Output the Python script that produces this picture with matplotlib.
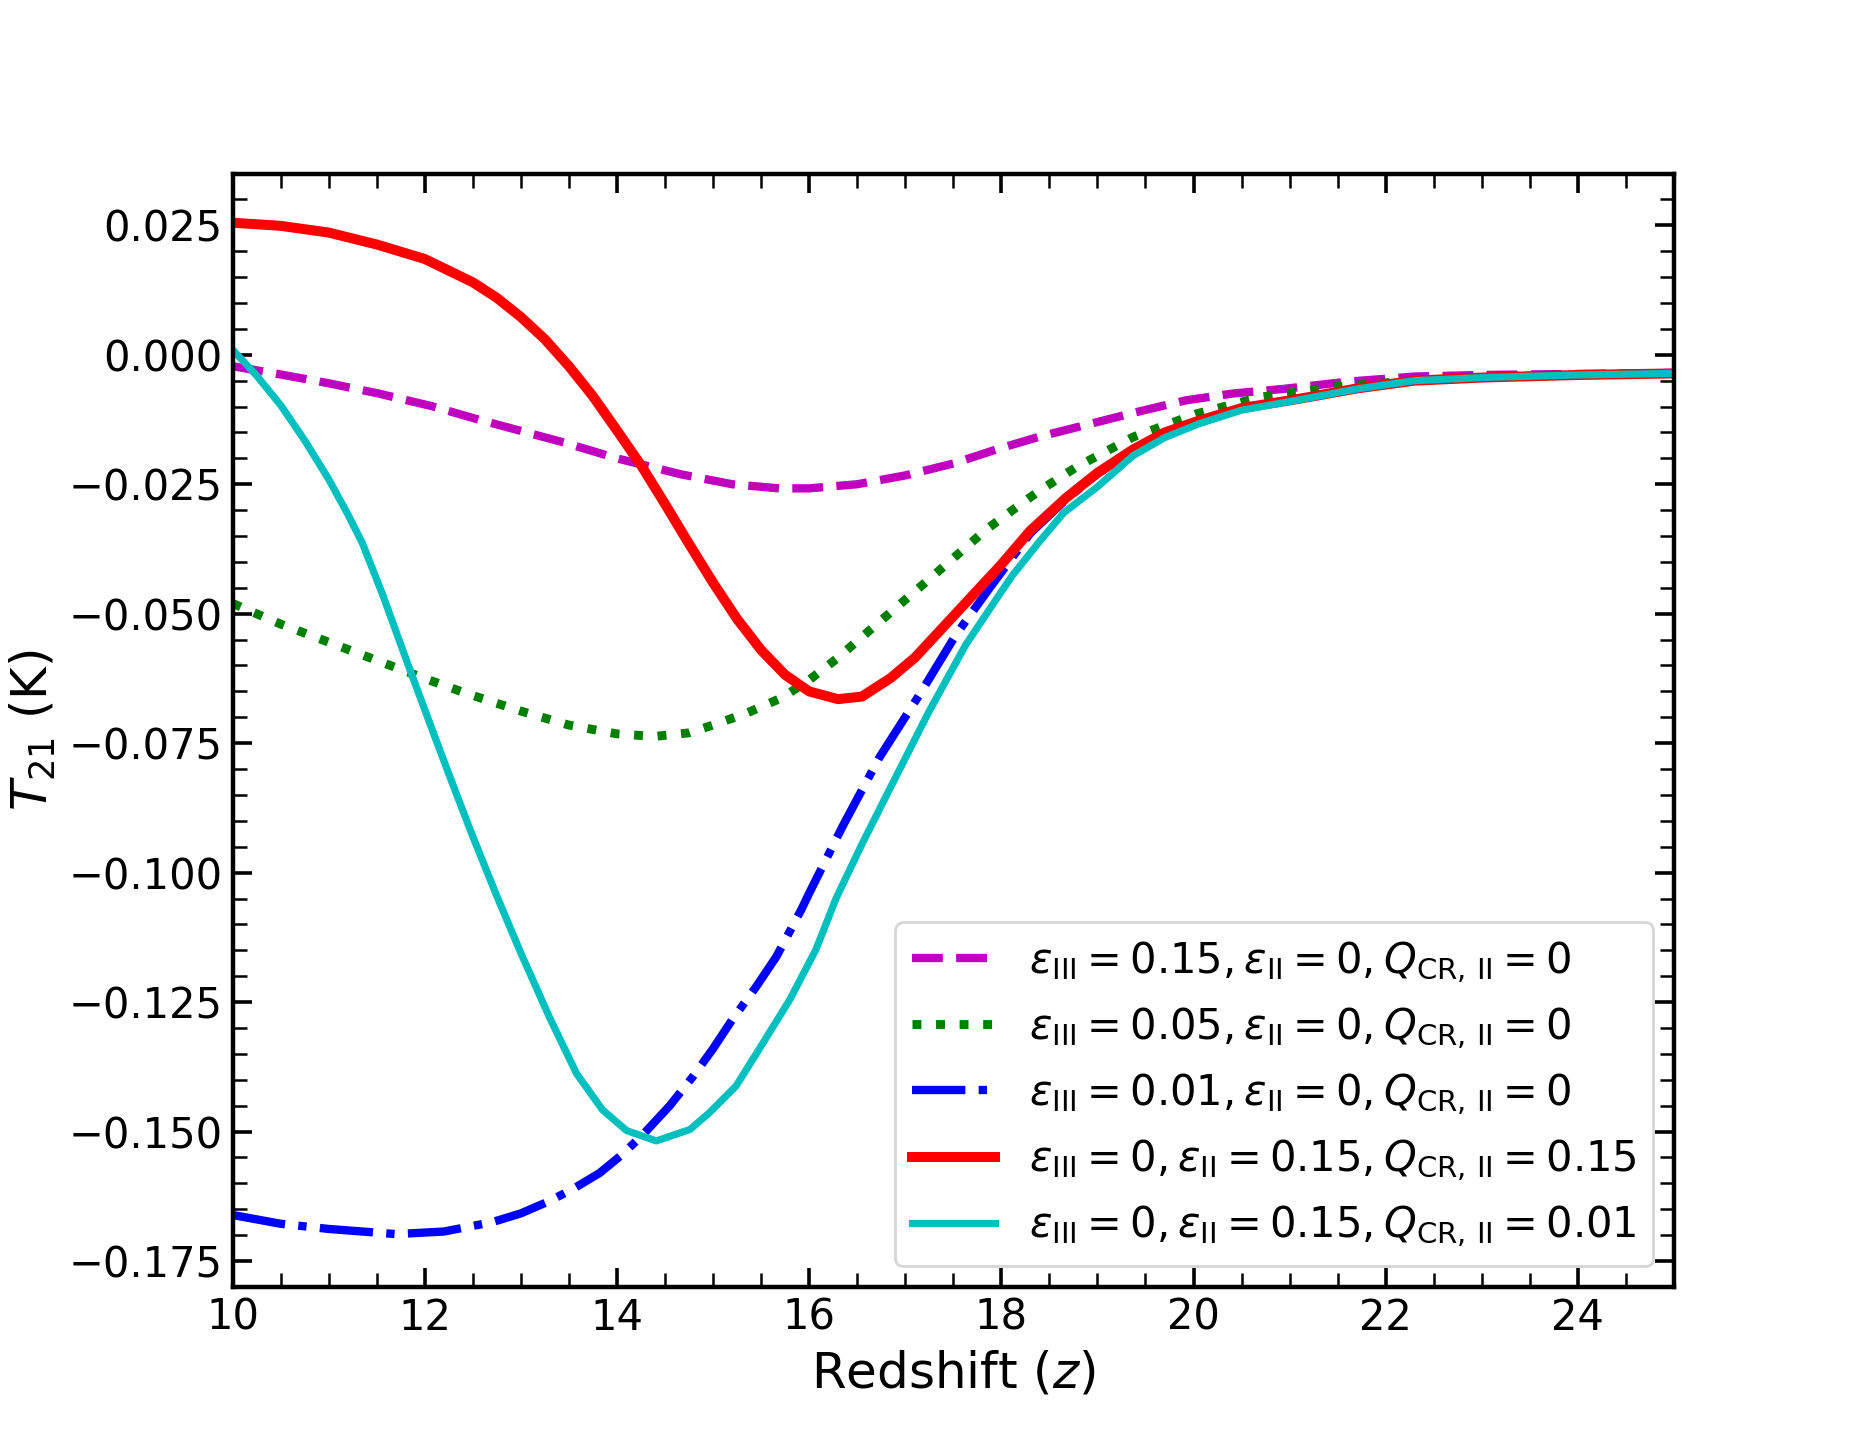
import matplotlib
matplotlib.use('Agg')
import matplotlib.pyplot as plt
from matplotlib.ticker import MultipleLocator

# Redshift grids and brightness temperature (K), one pair per model
z_mag = [10, 10.5, 11, 11.5, 12.07, 12.5, 13, 13.46, 14, 14.67, 15.2, 15.69, 16.0, 16.5, 17,
         17.5, 17.98, 18.4, 18.85, 19.4, 19.92, 20.4, 20.93, 21.6, 22.3, 23, 24, 25]
T_mag = [-0.0022, -0.0038, -0.0055, -0.0074, -0.0099, -0.0122, -0.0147, -0.0170, -0.0200, -0.0231,
         -0.0250, -0.0258, -0.0258, -0.0250, -0.0233, -0.0210, -0.0181, -0.0158, -0.0137, -0.0111,
         -0.0088, -0.0075, -0.0066, -0.0052, -0.0042, -0.0039, -0.0037, -0.0035]

z_grn = [10, 10.5, 11, 11.5, 12, 12.42, 13, 13.5, 14, 14.39, 14.75, 15.0, 15.35, 15.72, 16.0,
         16.28, 16.8, 17.32, 17.84, 18.02, 18.4, 18.78, 19.37, 20.03, 20.69, 21.45, 22.3, 23, 24, 25]
T_grn = [-0.0480, -0.0520, -0.0555, -0.0590, -0.0625, -0.0653, -0.0688, -0.0715, -0.0732, -0.0737,
         -0.0730, -0.0715, -0.0692, -0.0662, -0.0628, -0.0588, -0.0505, -0.0422, -0.0338, -0.0313,
         -0.0262, -0.0217, -0.0159, -0.0114, -0.0082, -0.0062, -0.0050, -0.0044, -0.0039, -0.0036]

z_blu = [10, 10.5, 11, 11.7, 12.2, 12.7, 13.0, 13.3, 13.55, 13.82, 14.05, 14.27, 14.55, 14.79,
         15.0, 15.2, 15.45, 15.66, 15.92, 16.0, 16.35, 16.73, 17.15, 17.53, 17.88, 18.1, 18.3,
         18.67, 19.0, 19.37, 19.7, 20.06, 20.5, 21.1, 21.7, 22.3, 23, 24, 25]
T_blu = [-0.1661, -0.1678, -0.1688, -0.1698, -0.1693, -0.1675, -0.1658, -0.1634, -0.1610, -0.1580,
         -0.1545, -0.1506, -0.1450, -0.1394, -0.1340, -0.1284, -0.1220, -0.1162, -0.1071, -0.1040,
         -0.0910, -0.0778, -0.0656, -0.0540, -0.0450, -0.0395, -0.0345, -0.0280, -0.0230, -0.0184,
         -0.0151, -0.0127, -0.0103, -0.0085, -0.0065, -0.0050, -0.0044, -0.0039, -0.0036]

z_red = [10, 10.5, 11, 11.5, 12, 12.5, 12.75, 13, 13.25, 13.5, 13.75, 14.0, 14.25, 14.5, 14.75,
         15.0, 15.25, 15.5, 15.75, 16.0, 16.3, 16.55, 16.85, 17.1, 17.36, 17.6, 17.8, 18.0, 18.3,
         18.67, 19.0, 19.37, 19.7, 20.06, 20.5, 21.1, 21.7, 22.3, 23, 24, 25]
T_red = [0.0255, 0.0249, 0.0236, 0.0213, 0.0185, 0.0140, 0.0110, 0.0073, 0.0030, -0.0022,
         -0.0080, -0.0146, -0.0213, -0.0288, -0.0365, -0.0440, -0.0510, -0.0570, -0.0618, -0.0650,
         -0.0665, -0.0660, -0.0624, -0.0585, -0.0533, -0.0485, -0.0445, -0.0405, -0.0340, -0.0277,
         -0.0228, -0.0183, -0.0150, -0.0127, -0.0103, -0.0085, -0.0065, -0.0050, -0.0044, -0.0039,
         -0.0036]

z_cyn = [10, 10.25, 10.5, 10.75, 11.0, 11.2, 11.35, 11.57, 11.83, 12.05, 12.26, 12.5, 12.75,
         13.0, 13.3, 13.58, 13.85, 14.1, 14.41, 14.76, 14.96, 15.24, 15.52, 15.8, 16.07, 16.28,
         16.55, 16.84, 17.25, 17.63, 17.98, 18.12, 18.4, 18.65, 19.0, 19.37, 19.7, 20.06, 20.5,
         21.1, 21.7, 22.3, 23, 24, 25]
T_cyn = [0.0010, -0.0040, -0.0097, -0.0165, -0.0240, -0.0308, -0.0363, -0.0467, -0.0600, -0.0710,
         -0.0814, -0.0930, -0.1045, -0.1155, -0.1280, -0.1388, -0.1458, -0.1498, -0.1518, -0.1496,
         -0.1464, -0.1412, -0.1329, -0.1245, -0.1149, -0.1050, -0.0945, -0.0838, -0.0688, -0.0560,
         -0.0463, -0.0425, -0.0360, -0.0305, -0.0255, -0.0195, -0.0160, -0.0133, -0.0107, -0.0087,
         -0.0066, -0.0050, -0.0044, -0.0039, -0.0036]

labels = [r'$\varepsilon_{\rm III} = 0.15, \varepsilon_{\rm II} = 0, Q_{\rm CR,\,II} = 0$',
          r'$\varepsilon_{\rm III} = 0.05, \varepsilon_{\rm II} = 0, Q_{\rm CR,\,II} = 0$',
          r'$\varepsilon_{\rm III} = 0.01, \varepsilon_{\rm II} = 0, Q_{\rm CR,\,II} = 0$',
          r'$\varepsilon_{\rm III} = 0, \varepsilon_{\rm II} = 0.15, Q_{\rm CR,\,II} = 0.15$',
          r'$\varepsilon_{\rm III} = 0, \varepsilon_{\rm II} = 0.15, Q_{\rm CR,\,II} = 0.01$']

fig, ax = plt.subplots(figsize=(9.3, 7.23), dpi=200)

ax.plot(z_mag, T_mag, color='m', ls='--', lw=3.0, label=labels[0])
ax.plot(z_grn, T_grn, color='g', ls=':', lw=3.2, label=labels[1])
ax.plot(z_blu, T_blu, color='b', ls='-.', lw=3.0, label=labels[2])
ax.plot(z_red, T_red, color='r', ls='-', lw=3.6, label=labels[3])
ax.plot(z_cyn, T_cyn, color='c', ls='-', lw=2.6, label=labels[4])

ax.set_xlim(10, 25)
ax.set_ylim(-0.18, 0.035)
ax.xaxis.set_major_locator(MultipleLocator(2))
ax.xaxis.set_minor_locator(MultipleLocator(0.5))
ax.yaxis.set_major_locator(MultipleLocator(0.025))
ax.yaxis.set_minor_locator(MultipleLocator(0.005))
ax.tick_params(which='both', direction='in', top=True, right=True, labelsize=15)
ax.tick_params(which='major', length=7, width=1.3)
ax.tick_params(which='minor', length=5, width=0.9)
for sp in ax.spines.values():
    sp.set_linewidth(1.6)

ax.set_xlabel(r'Redshift ($z$)', fontsize=18)
ax.set_ylabel(r'$T_{21}$ (K)', fontsize=18)
ax.legend(loc='lower right', fontsize=15, handlelength=2.0)

fig.savefig('out.png', dpi=200)
